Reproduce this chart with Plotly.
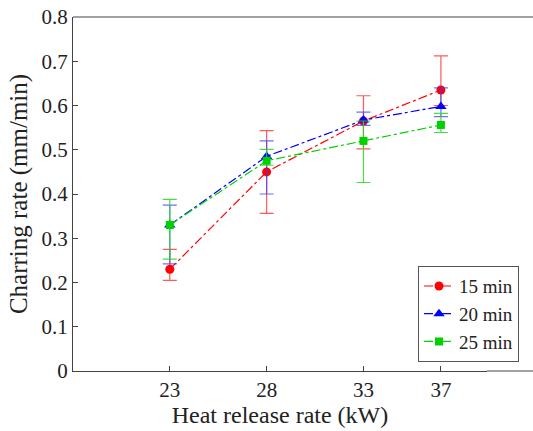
import plotly.graph_objects as go

hrr = [23, 28, 33, 37]

rate_15 = [0.23, 0.45, 0.565, 0.635]
up_15 = [0.275, 0.543, 0.622, 0.712]
low_15 = [0.205, 0.356, 0.502, 0.600]

rate_20 = [0.33, 0.485, 0.567, 0.598]
up_20 = [0.375, 0.520, 0.585, 0.640]
low_20 = [0.242, 0.400, 0.555, 0.575]

rate_25 = [0.33, 0.475, 0.52, 0.556]
up_25 = [0.388, 0.501, 0.565, 0.582]
low_25 = [0.253, 0.465, 0.426, 0.539]

series = [
    ("15 min", rate_15, up_15, low_15, "rgb(255,0,0)", "rgba(255,60,60,0.85)", "circle", 9),
    ("20 min", rate_20, up_20, low_20, "rgb(0,0,255)", "rgba(60,60,255,0.75)", "triangle-up", 10),
    ("25 min", rate_25, up_25, low_25, "rgb(0,210,0)", "rgba(40,215,40,0.85)", "square", 8),
]

fig = go.Figure()
for name, y, up, low, col, ecol, sym, ms in series:
    fig.add_trace(go.Scatter(
        x=hrr, y=y, name=name, mode="lines+markers",
        line=dict(color=col, width=1.2, dash="dashdot"),
        marker=dict(color=col, symbol=sym, size=ms),
        error_y=dict(type="data", symmetric=False,
                     array=[u - v for u, v in zip(up, y)],
                     arrayminus=[v - l for v, l in zip(y, low)],
                     color=ecol, thickness=1.2, width=7),
    ))

font_family = "Liberation Serif, Times New Roman, serif"
fig.update_layout(
    width=533, height=431,
    margin=dict(l=73, r=0, t=17, b=60),
    paper_bgcolor="white", plot_bgcolor="white",
    font=dict(family=font_family, color="#222", size=19),
    showlegend=True,
    legend=dict(x=0.75, y=0.025, xanchor="left", yanchor="bottom",
                bordercolor="#555", borderwidth=1, bgcolor="white",
                font=dict(size=19, family=font_family), tracegroupgap=0,
                itemwidth=30),
    xaxis=dict(range=[18, 39.38], tickvals=hrr, ticktext=[str(v) for v in hrr],
               domain=[0, 0.9],
               ticks="inside", ticklen=5, tickcolor="#444",
               showline=True, linecolor="#444", linewidth=1, mirror=False,
               showgrid=False, zeroline=False,
               title=dict(text="Heat release rate (kW)", font=dict(size=24), standoff=4),
               tickfont=dict(size=21)),
    yaxis=dict(range=[0, 0.8], dtick=0.1, tickformat=".1~f",
               ticks="inside", ticklen=5, tickcolor="#444",
               showline=True, linecolor="#444", linewidth=1,
               showgrid=False, zeroline=False, ticklabeloverflow="allow",
               title=dict(text="Charring rate (mm/min)", font=dict(size=25), standoff=6),
               tickfont=dict(size=21)),
    shapes=[
        dict(type="line", xref="paper", yref="paper", x0=0, x1=1, y0=1, y1=1,
             line=dict(color="#444", width=1)),
        dict(type="line", xref="paper", yref="paper", x0=0.9, x1=1, y0=0, y1=0,
             line=dict(color="#444", width=1)),
    ],
)

fig.write_html(
    "out.html",
    config={"displayModeBar": False},
    post_script="document.body.style.margin='0';document.body.style.overflow='hidden';",
)
